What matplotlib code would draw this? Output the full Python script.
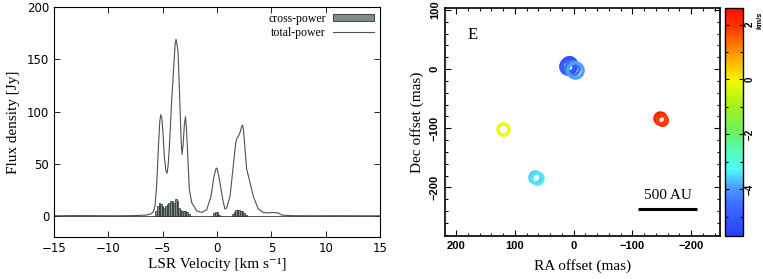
import numpy as np
import matplotlib
matplotlib.use('Agg')
import matplotlib.pyplot as plt
from matplotlib.colors import LinearSegmentedColormap, Normalize
from matplotlib.patches import Patch
from matplotlib.lines import Line2D
import matplotlib.ticker as ticker

# total-power spectrum
tp_v = [-15, -13, -11, -9, -7.5, -6.5, -6.1, -5.86, -5.7, -5.55, -5.4, -5.27, -5.18, -5.08,
        -4.97, -4.85, -4.7, -4.6, -4.5, -4.38, -4.17, -3.98, -3.85, -3.77, -3.68,
        -3.59, -3.44, -3.3, -3.22, -3.12, -3.0, -2.9, -2.82, -2.7, -2.55,
        -2.33, -1.87, -1.41, -0.95, -0.55, -0.28, -0.1, -0.03, 0.05, 0.22, 0.58, 0.74,
        0.9, 1.2, 1.5, 1.72, 1.85, 1.96, 2.12, 2.28, 2.36, 2.44, 2.55, 2.73, 2.97,
        3.34, 3.8, 4.26, 4.7, 5.03, 5.64, 5.95, 7, 9, 11, 13, 15]
tp_s = [0.3, 0.5, 0.4, 0.3, 0.5, 1.0, 2.0, 4, 10, 30, 64, 90, 97, 94,
        80, 57, 43, 41, 48, 67, 111, 143, 165, 169, 164,
        158, 115, 72, 59, 68, 88, 95, 85, 60, 26,
        13, 5, 3.5, 6, 19, 38, 45, 46, 44, 35, 13, 6.7,
        8, 19, 48, 70, 75, 76, 80, 86, 87, 82, 68, 45, 35,
        19, 6.7, 3.5, 3.0, 3.5, 3.0, 1.0, 0.4, 0.3, 0.4, 0.3, 0.3]

# cross-power channels
cp_v = [-5.6, -5.45, -5.3, -5.15, -5.0, -4.85, -4.7, -4.55, -4.4, -4.25, -4.1,
        -3.95, -3.8, -3.65, -3.5, -3.35, -3.2, -3.05, -2.9, -2.75, -2.6,
        -0.25, -0.1, 0.05, 0.2,
        1.45, 1.6, 1.75, 1.9, 2.05, 2.2, 2.35, 2.5, 2.65]
cp_s = [5, 10, 12.5, 12, 10, 8, 10, 12, 13, 14, 14.5,
        13, 16.5, 14, 8, 6, 5, 4.5, 5, 3.5, 2,
        2.5, 4, 3.5, 1.5,
        2, 4, 5.5, 6, 6, 5, 4.5, 3, 1.5]

# maser spots: RA offset, Dec offset (mas), LSR velocity (km/s)
spot_ra = [10, 8, 12, 2, -2, -147, -150, -148, 120, 65, 63]
spot_dec = [6, 8, 3, 1, -1, -83, -86, -84, -102, -182, -184]
spot_vel = [-5.4, -5.2, -5.0, -4.4, -3.9, 2.3, 2.0, 1.8, -0.1, -3.6, -3.4]
spot_size = [11, 10, 9, 10, 11, 8, 7, 6, 8, 8, 8]

serif = ['Liberation Serif', 'DejaVu Serif']
sans = 'Liberation Sans'

fig = plt.figure(figsize=(7.63, 2.79), dpi=100)

# ---- left: spectrum ----
ax1 = fig.add_axes([0.0708, 0.1505, 0.4272, 0.8245])
ax1.bar(cp_v, cp_s, width=0.15, color='#7d8d8b', edgecolor='#2a3332', linewidth=0.5)
ax1.plot(tp_v, tp_s, color='#505050', lw=0.8)
ax1.axhline(0, color='#333333', lw=0.6)
ax1.set_xlim(-15, 15)
ax1.set_ylim(-20, 200)
ax1.set_xticks(range(-15, 16, 5))
ax1.set_yticks(range(0, 201, 50))
ax1.tick_params(direction='in', top=True, right=True, labelsize=8.5, length=4, width=0.6)
for lab in ax1.get_xticklabels() + ax1.get_yticklabels():
    lab.set_family('DejaVu Sans')
ax1.set_xlabel('LSR Velocity [km s\u207b\u00b9]', family=serif, fontsize=11, labelpad=2)
ax1.set_ylabel('Flux density [Jy]', family=serif, fontsize=11, labelpad=5)
handles = [Patch(facecolor='#7d8d8b', edgecolor='#2a3332', linewidth=0.6),
           Line2D([], [], color='#505050', lw=0.8)]
ax1.legend(handles, ['cross-power', 'total-power'], loc='upper right', frameon=False,
           markerfirst=False, prop={'family': serif, 'size': 8.5}, handlelength=3.5,
           handleheight=0.6, borderaxespad=0.1, labelspacing=0.15, handletextpad=0.6)
for s in ax1.spines.values():
    s.set_linewidth(0.8)

# ---- right: spot map ----
cmap = LinearSegmentedColormap.from_list('maser', [
    (0.00, (0.15, 0.25, 1.0)),
    (0.15, (0.25, 0.45, 1.0)),
    (0.22, (0.30, 0.65, 1.0)),
    (0.29, (0.30, 0.98, 0.98)),
    (0.38, (0.35, 0.98, 0.70)),
    (0.45, (0.40, 0.95, 0.40)),
    (0.57, (0.65, 0.95, 0.10)),
    (0.68, (0.95, 0.98, 0.00)),
    (0.80, (1.00, 0.60, 0.00)),
    (0.92, (1.00, 0.20, 0.00)),
    (1.00, (1.00, 0.05, 0.00))])
norm = Normalize(vmin=-5.7, vmax=2.6)

ax2 = fig.add_axes([0.583, 0.154, 0.3606, 0.817])
for ra, dec, v, sz in zip(spot_ra, spot_dec, spot_vel, spot_size):
    ax2.plot(ra, dec, 'o', ms=sz, mfc='none', mec=cmap(norm(v)), mew=2.4)
ax2.plot([-110, -210], [-237, -237], color='black', lw=2.2, solid_capstyle='butt')
ax2.text(-160, -224, '500 AU', ha='center', va='bottom', family=serif, fontsize=11)
ax2.text(171, 58, 'E', ha='center', va='center', family=serif, fontsize=12)
ax2.set_xlim(219, -249)
ax2.set_ylim(-282, 103)
ax2.set_xticks([200, 100, 0, -100, -200])
ax2.set_yticks([100, 0, -100, -200])
ax2.xaxis.set_minor_locator(ticker.MultipleLocator(20))
ax2.yaxis.set_minor_locator(ticker.MultipleLocator(20))
ax2.tick_params(which='both', direction='in', top=True, right=True, width=0.8)
ax2.tick_params(which='major', length=4, labelsize=8)
ax2.tick_params(which='minor', length=2)
for lab in ax2.get_xticklabels() + ax2.get_yticklabels():
    lab.set_family(sans)
    lab.set_fontweight('bold')
for lab in ax2.get_yticklabels():
    lab.set_rotation(90)
    lab.set_va('center')
ax2.set_xlabel('RA offset (mas)', family=serif, fontsize=11, labelpad=6)
ax2.set_ylabel('Dec offset (mas)', family=serif, fontsize=11, labelpad=4)
for s in ax2.spines.values():
    s.set_linewidth(1.2)

# ---- colorbar ----
cax = fig.add_axes([0.950, 0.154, 0.0236, 0.817])
sm = plt.cm.ScalarMappable(norm=norm, cmap=cmap)
cb = fig.colorbar(sm, cax=cax, ticks=[2, 0, -2, -4])
cb.outline.set_linewidth(1.0)
cax.tick_params(which='both', direction='in', left=True, right=True, length=3, width=0.8,
                labelsize=7, pad=1.5)
cax.yaxis.set_minor_locator(ticker.MultipleLocator(1))
cax.tick_params(which='minor', length=2, left=True, right=True, direction='in')
cax.set_yticklabels(['2', '0', '\u22122', '\u22124'])
for lab in cax.get_yticklabels():
    lab.set_family(sans)
    lab.set_fontweight('bold')
    lab.set_rotation(90)
    lab.set_va('center')
cax.text(1.76, 0.985, 'km/s', transform=cax.transAxes, rotation=90, ha='left', va='top',
         family=sans, fontweight='bold', fontsize=5.5)

fig.savefig('out.png', dpi=100)
